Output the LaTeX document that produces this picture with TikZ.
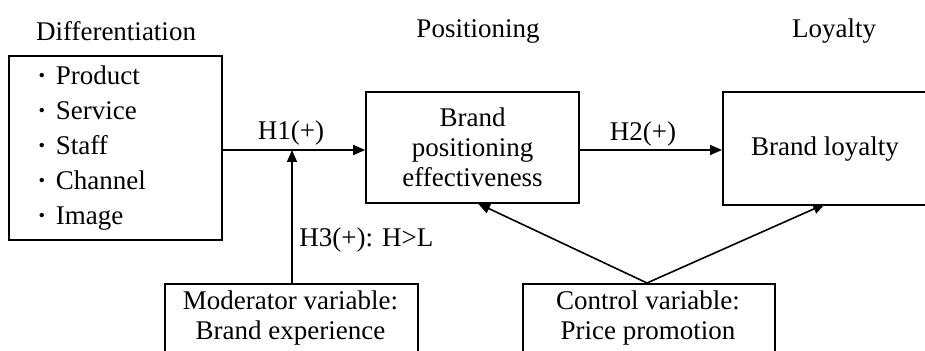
\documentclass[tikz,border=0pt]{standalone}
\usepackage{fontspec}
\setmainfont{Liberation Serif}
\usetikzlibrary{arrows.meta}
\begin{document}
\begin{tikzpicture}[x=0.5pt,y=-0.5pt,
  every node/.style={font=\fontsize{13.5}{15}\selectfont, inner sep=0pt},
  box/.style={draw, line width=0.8pt},
  conn/.style={line width=0.8pt, -{Triangle[length=6pt,width=5pt]}},
  plain/.style={line width=0.8pt}]
\clip (0,0) rectangle (925,351);
\fill[white] (0,0) rectangle (925,351);
% titles
\node (tdiff) at (116,31) {Differentiation};
\node (tpos) at (478,31) {Positioning};
\node (tloy) at (834,31) {Loyalty};
% boxes
\draw[box] (9,56) rectangle (222,240);
\coordinate (diffE) at (222,150);
\node[align=left, anchor=west, font=\fontsize{13.5}{17.5}\selectfont] (list) at (37,148)
  {\textbf{·}\hspace{0.35em}Product\\\textbf{·}\hspace{0.35em}Service\\\textbf{·}\hspace{0.35em}Staff\\\textbf{·}\hspace{0.35em}Channel\\\textbf{·}\hspace{0.35em}Image};
\node[box, minimum width=106.5pt, minimum height=55.5pt, align=center] (pos) at (472.5,147.5)
  {Brand\\positioning\\effectiveness};
\node[box, anchor=north west, minimum width=110pt, minimum height=56.5pt] (loy) at (722,91) {};
\node (loyt) at (825,149) {Brand loyalty};
\node[box, anchor=north west, minimum width=126.5pt, minimum height=45pt] (mod) at (164,283) {};
\node[align=center] (modt) at (290.5,318) {Moderator variable:\\Brand experience};
\node[box, anchor=north west, minimum width=126pt, minimum height=45pt] (ctl) at (522,283) {};
\node[align=center] (ctlt) at (648,318) {Control variable:\\Price promotion};
% connectors
\draw[conn] (diffE) -- (pos.west |- diffE);
\coordinate (h1) at (292,150);
\draw[conn] (mod.north -| h1) -- (h1);
\draw[conn] (pos.east |- diffE) -- (loy.west |- diffE);
\coordinate (ctop) at (647,283);
\draw[conn] (ctop) -- (478,203.5);
\draw[conn] (ctop) -- (825,204);
% labels
\node (lh1) at (291,133) {H1(+)};
\node (lh2) at (643,134) {H2(+)};
\node[anchor=west] (lh3) at (299,240) {H3(+): H>L};
\end{tikzpicture}
\end{document}
